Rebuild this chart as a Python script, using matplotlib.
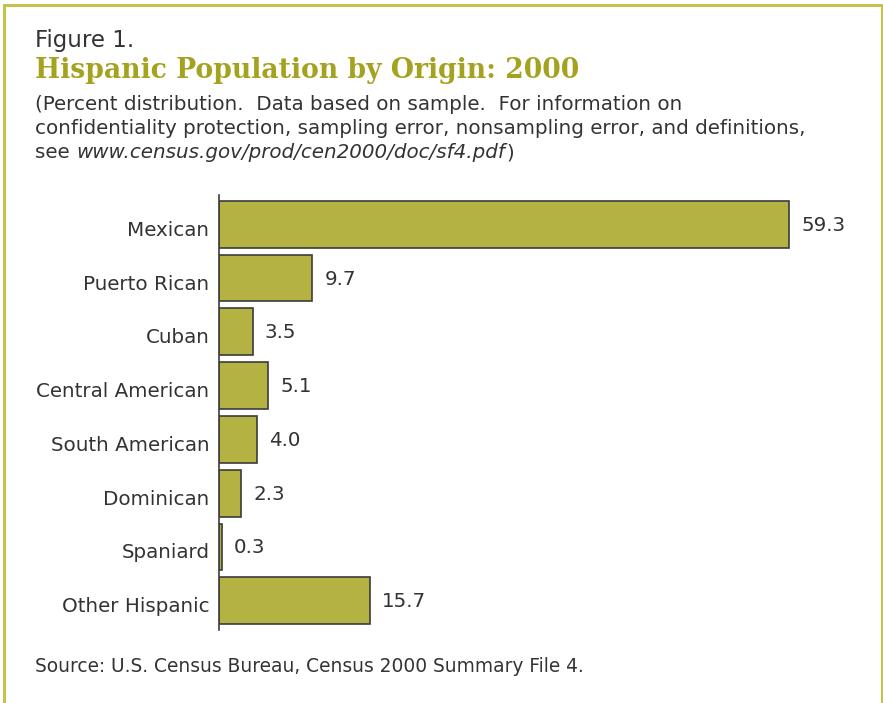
import matplotlib
matplotlib.use("Agg")
import matplotlib.pyplot as plt
from matplotlib.patches import Rectangle
import matplotlib.transforms as mtrans

categories = ["Mexican", "Puerto Rican", "Cuban", "Central American",
              "South American", "Dominican", "Spaniard", "Other Hispanic"]
values = [59.3, 9.7, 3.5, 5.1, 4.0, 2.3, 0.3, 15.7]
value_labels = ["59.3", "9.7", "3.5", "5.1", "4.0", "2.3", "0.3", "15.7"]

W, H = 883, 703
fig = plt.figure(figsize=(W / 100, H / 100), dpi=100)
fig.patch.set_facecolor("white")

def fx(x):
    return x / W

def fy(y):
    return 1 - y / H

# border
fig.add_artist(Rectangle((fx(4), fy(720)), fx(878), fy(5) - fy(720),
                         transform=fig.transFigure, fill=False, edgecolor="#c3c34e",
                         linewidth=2.2, clip_on=False))

txt = "#333333"
fig.text(fx(35), fy(40), "Figure 1.", fontsize=16.5, color=txt, va="center", ha="left")
fig.text(fx(35), fy(71), "Hispanic Population by Origin: 2000", fontsize=19.2, color="#a4a21f",
         fontweight="bold", va="center", ha="left", family="DejaVu Serif")
fs = 14.3
fig.text(fx(35), fy(104), "(Percent distribution.  Data based on sample.  For information on",
         fontsize=fs, color=txt, va="center", ha="left")
fig.text(fx(35), fy(128), "confidentiality protection, sampling error, nonsampling error, and definitions,",
         fontsize=fs, color=txt, va="center", ha="left")
t1 = fig.text(fx(35), fy(153), "see ", fontsize=fs, color=txt, va="center", ha="left")
fig.canvas.draw()
bb = t1.get_window_extent()
t2 = fig.text(bb.x1 / W, fy(153), "www.census.gov/prod/cen2000/doc/sf4.pdf", fontsize=fs,
              color=txt, va="center", ha="left", style="italic")
fig.canvas.draw()
bb2 = t2.get_window_extent()
fig.text(bb2.x1 / W + 0.002, fy(153), ")", fontsize=fs, color=txt, va="center", ha="left")

fig.text(fx(35), fy(667), "Source: U.S. Census Bureau, Census 2000 Summary File 4.",
         fontsize=13.4, color=txt, va="center", ha="left")

ax = fig.add_axes([fx(219), fy(630), fx(625), fy(195) - fy(630)])
y = list(range(len(categories)))
ax.barh(y, values, height=0.87, color="#b3b243", edgecolor="#3c3c3c", linewidth=1.2)
ax.set_ylim(7.545, -0.545)
ax.set_xlim(0, 65)
ax.set_yticks(y)
ax.set_yticklabels(categories, fontsize=14.3, color=txt)
ax.tick_params(axis="y", length=0, pad=7)
offset = mtrans.ScaledTranslation(0, -4 / 100, fig.dpi_scale_trans)
for lab in ax.get_yticklabels():
    lab.set_transform(lab.get_transform() + offset)
ax.set_xticks([])
for s in ["top", "right", "bottom"]:
    ax.spines[s].set_visible(False)
ax.spines["left"].set_color("#3c3c3c")
ax.spines["left"].set_linewidth(1.2)
for yi, v, lab in zip(y, values, value_labels):
    ax.annotate(lab, (v, yi), xytext=(12, -1), textcoords="offset pixels",
                va="center", ha="left", fontsize=14.3, color=txt)

fig.savefig("out.png", dpi=100, facecolor="white")
